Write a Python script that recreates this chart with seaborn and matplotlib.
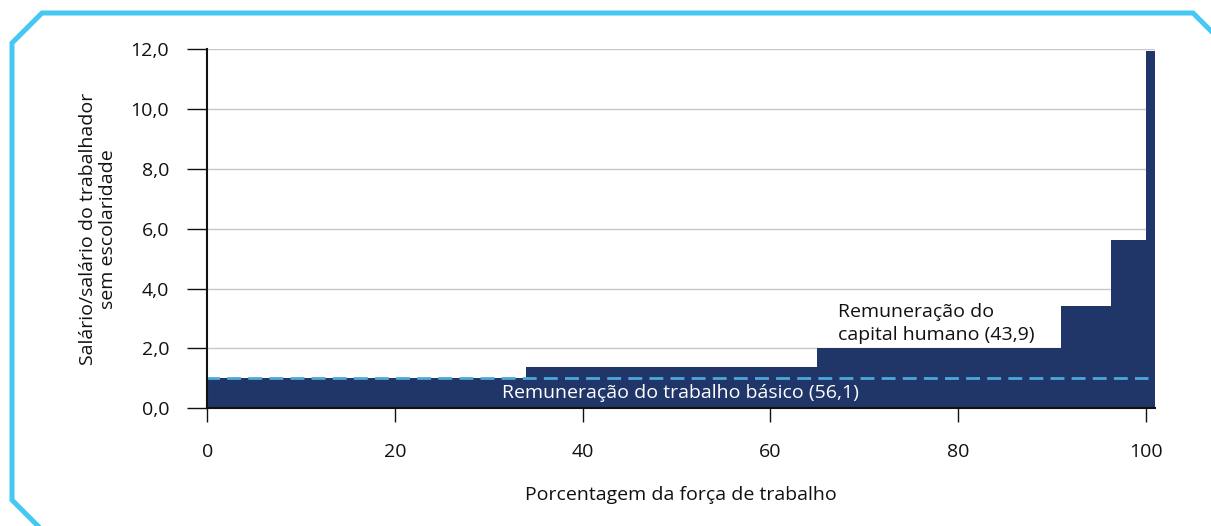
import matplotlib
matplotlib.use("Agg")
import matplotlib.pyplot as plt
from matplotlib.lines import Line2D
from matplotlib.ticker import FuncFormatter
import seaborn as sns
import numpy as np

# ---- data ----
bin_edges = [0.0, 34.0, 65.0, 91.0, 96.3, 100.0, 101.0]
wage_ratio = [1.0, 1.38, 2.0, 3.42, 5.63, 11.95]
basic_wage = 1.0
y_ticks = [0, 2, 4, 6, 8, 10, 12]
x_ticks = [0, 20, 40, 60, 80, 100]
label_basic = "Remuneração do trabalho básico (56,1)"
label_human = "Remuneração do\ncapital humano (43,9)"
x_label = "Porcentagem da força de trabalho"
y_label = "Salário/salário do trabalhador\nsem escolaridade"

NAVY = "#203668"
DASH = "#4DA9D9"
FRAME = "#45C8F3"
GRID = "#C8C8C8"
INK = "#111111"
FS = 14

sns.set_theme(style="white")
plt.rcParams["font.family"] = ["Open Sans", "DejaVu Sans"]

W, H = 1211, 526
fig = plt.figure(figsize=(W / 100, H / 100), dpi=100)
x0, x1 = 207.3, 1155.0
y0, y1 = 408.3, 49.3
ax = fig.add_axes([x0 / W, 1 - y0 / H, (x1 - x0) / W, (y0 - y1) / H])

mids = [(a + b) / 2 for a, b in zip(bin_edges[:-1], bin_edges[1:])]
sns.histplot(x=mids, weights=wage_ratio, bins=bin_edges, stat="count",
             element="bars", fill=True, color=NAVY, alpha=1, linewidth=0,
             ax=ax, zorder=2)

ax.hlines(basic_wage, 0, 100.3, colors=DASH, linewidth=2.0,
          linestyles=(0.5, (5.0, 2.6)), zorder=3)

ax.set_xlim(0, 101.0)
ax.set_ylim(0, 12)
ax.set_yticks(y_ticks)
ax.set_xticks(x_ticks)
ax.yaxis.set_major_formatter(FuncFormatter(lambda v, p: f"{v:.1f}".replace(".", ",")))

ax.grid(axis="y", color=GRID, linewidth=1.0, zorder=0)
ax.set_axisbelow(True)
for s in ["top", "right"]:
    ax.spines[s].set_visible(False)
for s in ["left", "bottom"]:
    ax.spines[s].set_color(INK)
    ax.spines[s].set_linewidth(1.5)
    ax.spines[s].set_zorder(4)

ax.tick_params(axis="y", direction="out", length=14.5, width=1.0, color=INK,
               pad=13.0, labelsize=FS, labelcolor=INK, left=True)
ax.tick_params(axis="x", direction="out", length=10, width=1.0, color=INK,
               pad=15, labelsize=FS, labelcolor=INK, bottom=True)

ax.set_xlabel(x_label, fontsize=FS, color=INK, labelpad=18)
ax.set_ylabel(y_label, fontsize=FS, color=INK, labelpad=10, linespacing=1.1)

ax.text(50.4, 0.5, label_basic, color="white", fontsize=FS, ha="center",
        va="center", zorder=5)
ax.text(67.2, 2.84, label_human, color=INK, fontsize=FS, ha="left",
        va="center", linespacing=1.38, zorder=5)

# frame with cut corners
px = [45, 12, 12, 42, 1193, 1235]
py = [533, 500, 43, 13, 13, 55]
fig.add_artist(Line2D([p / W for p in px], [1 - p / H for p in py],
                      transform=fig.transFigure, color=FRAME, linewidth=3.6,
                      solid_joinstyle="miter", clip_on=False))

fig.savefig("out.png", dpi=100)
